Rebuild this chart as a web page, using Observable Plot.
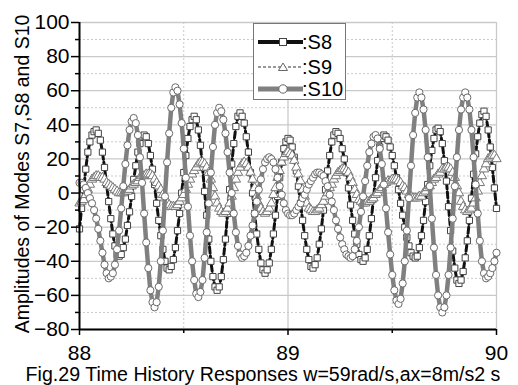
<!DOCTYPE html>
<html><head><meta charset="utf-8">
<script src="https://cdn.jsdelivr.net/npm/d3@7"></script>
<script src="https://cdn.jsdelivr.net/npm/@observablehq/plot@0.6"></script>
<style>
body{margin:0;background:#fff;font-family:"Liberation Sans",Arial,sans-serif;}
#wrap{position:relative;width:518px;height:385px;overflow:hidden;background:#fff;}
#caption{position:absolute;left:4px;top:363px;width:518px;text-align:center;font-size:19.6px;line-height:22px;color:#000;white-space:nowrap;}
#legend{position:absolute;left:253px;top:23px;}
</style></head><body>
<div id="wrap"><div id="chart"></div><div id="legend"></div><div id="caption"></div></div>
<script>
const t0 = 88, dt = 0.01;
const seriesNames = [":S8", ":S9", ":S10"];
const yLabel = "Amplitudes of Modes S7,S8 and S10";
const captionText = "Fig.29 Time History Responses w=59rad/s,ax=8m/s2 s";
const xTicks = [88, 89, 90];
const xMinor = [88.5, 89.5];
const yTicks = [-80, -60, -40, -20, 0, 20, 40, 60, 80, 100];
const yMinor = [-70, -50, -30, -10, 10, 30, 50, 70, 90];

const s8 = [-21,-9,2,14,24,30,34,36,37,35,
31,24,15,5,-5,-15,-24,-31,-36,-37,
-36,-32,-27,-19,-11,-2,8,16,24,29,
33,34,33,29,22,14,5,-6,-16,-25,
-33,-40,-44,-45,-43,-39,-32,-22,-12,0,
12,22,32,39,43,45,43,37,28,15,
1,-13,-27,-40,-49,-55,-57,-55,-49,-39,
-27,-12,2,17,29,39,45,47,45,41,
33,24,12,0,-12,-24,-33,-41,-45,-47,
-45,-41,-33,-24,-13,-2,9,18,26,30,
32,31,27,21,13,4,-6,-16,-25,-33,
-39,-43,-44,-42,-38,-30,-21,-10,2,13,
22,30,34,36,35,32,26,20,12,3,
-7,-16,-24,-30,-36,-39,-40,-38,-33,-25,
-15,-3,9,19,27,32,34,33,31,27,
22,16,9,2,-6,-13,-20,-26,-31,-35,
-37,-38,-37,-32,-25,-16,-5,5,16,25,
32,37,38,36,29,19,7,-8,-22,-34,
-44,-51,-53,-51,-46,-38,-28,-16,-3,11,
23,33,41,46,48,45,37,27,15,3,
-9];

const s9 = [-6,-5,-4,-1,2,5,8,9,10,10,
9,9,8,6,5,4,3,2,1,0,
0,0,1,1,2,4,5,6,7,9,
10,10,11,11,11,10,8,6,4,2,
-1,-3,-5,-7,-8,-8,-8,-7,-5,-3,
-1,2,5,8,11,13,15,17,18,18,
17,15,12,8,3,-2,-6,-9,-11,-12,
-11,-9,-6,-2,3,8,12,15,17,18,
17,15,12,8,3,-2,-6,-9,-11,-12,
-11,-9,-6,-1,3,9,13,18,21,23,
24,23,22,19,15,11,7,2,-2,-6,
-9,-10,-11,-11,-10,-9,-7,-5,-2,0,
3,5,8,10,12,13,14,14,13,12,
9,6,2,-1,-4,-5,-6,-6,-5,-5,
-4,-3,-1,0,2,3,5,6,7,7,
8,8,8,7,6,4,3,1,-1,-2,
-3,-3,-3,-2,-2,0,1,3,4,6,
8,9,11,12,14,14,15,15,14,12,
9,4,0,-5,-8,-10,-11,-10,-9,-6,
-3,1,6,10,14,17,20,21,22,22,
20];

const s10 = [6,6,5,3,0,-3,-6,-10,-15,-21,
-28,-35,-42,-47,-50,-49,-47,-42,-33,-22,
-9,4,17,28,37,42,44,41,34,21,
6,-12,-29,-44,-57,-64,-67,-64,-55,-40,
-22,-2,18,35,50,59,62,60,52,41,
26,9,-8,-25,-40,-51,-59,-61,-58,-51,
-38,-23,-6,12,27,40,47,50,48,43,
35,24,12,0,-12,-23,-31,-36,-38,-37,
-35,-31,-25,-19,-12,-5,2,8,14,18,
20,21,20,18,14,9,4,-1,-6,-10,
-12,-13,-13,-12,-10,-8,-6,-3,-1,2,
5,7,9,11,12,12,11,10,7,4,
-1,-5,-10,-16,-21,-26,-30,-33,-36,-37,
-38,-37,-33,-28,-20,-11,-2,7,16,24,
29,33,34,32,26,17,5,-9,-23,-36,
-48,-57,-63,-65,-62,-53,-40,-22,-3,16,
34,47,56,59,56,49,37,21,4,-15,
-32,-48,-60,-67,-70,-67,-60,-48,-32,-15,
4,21,37,49,56,59,56,49,37,21,
5,-12,-28,-40,-47,-50,-49,-47,-44,-40,
-35];

const time = s8.map((_, i) => +(t0 + i * dt).toFixed(2));
const rows = time.map((t, i) => ({t, s8: s8[i], s9: s9[i], s10: s10[i]}));

const gridColor = "#c9c9c9";
const chart = Plot.plot({
  width: 518, height: 362,
  marginLeft: 79, marginRight: 22, marginTop: 22, marginBottom: 33,
  style: {fontFamily: '"Liberation Sans", Arial, sans-serif', background: "white", overflow: "visible", color: "black"},
  x: {domain: [88, 90]},
  y: {domain: [-80, 100]},
  marks: [
    Plot.ruleY(yMinor, {stroke: gridColor, strokeDasharray: "2,2"}),
    Plot.ruleY(yTicks, {stroke: gridColor, strokeWidth: 1.3}),
    Plot.ruleX(xMinor, {stroke: gridColor, strokeDasharray: "2,2"}),
    Plot.ruleX(xTicks.slice(1), {stroke: gridColor, strokeWidth: 1.3}),
    Plot.line(rows, {x: "t", y: "s8", stroke: "#111", strokeWidth: 3, strokeDasharray: "6,3"}),
    Plot.dot(rows, {x: "t", y: "s8", symbol: "square", r: 3.5, fill: "white", stroke: "#444", strokeWidth: 1}),
    Plot.line(rows, {x: "t", y: "s9", stroke: "#444", strokeWidth: 1.1, strokeDasharray: "2,2"}),
    Plot.dot(rows, {x: "t", y: "s9", symbol: "triangle", r: 3.5, fill: "white", stroke: "#777", strokeWidth: 1}),
    Plot.line(rows, {x: "t", y: "s10", stroke: "#808080", strokeWidth: 4.5}),
    Plot.dot(rows, {x: "t", y: "s10", symbol: "circle", r: 3.6, fill: "white", stroke: "#6a6a6a", strokeWidth: 1}),
    Plot.axisY(yTicks, {tickSize: 8, tickPadding: 2, fontSize: 21, strokeWidth: 1.5, label: null}),
    Plot.axisY(yMinor, {tickSize: 4, text: null, strokeWidth: 1.5, label: null}),
    Plot.axisX(xTicks, {tickSize: 6, tickPadding: 10, fontSize: 21, strokeWidth: 1.5, label: null, tickFormat: d => String(d)}),
    Plot.axisX(xMinor, {tickSize: 4, text: null, strokeWidth: 1.5, label: null}),
    Plot.ruleX([88], {stroke: "black", strokeWidth: 2}),
    Plot.ruleY([-80], {stroke: "black", strokeWidth: 2}),
    Plot.text([yLabel], {frameAnchor: "left", textAnchor: "middle", lineAnchor: "middle", rotate: -90, dx: -57, dy: -2, fontSize: 19.5, fill: "black"})
  ]
});
document.getElementById("chart").appendChild(chart);

// legend (drawn beside the plot as an overlay)
const lg = d3.select("#legend").append("svg").attr("width", 94).attr("height", 78)
  .style("font-family", '"Liberation Sans", Arial, sans-serif');
lg.append("rect").attr("x", 0.5).attr("y", 0.5).attr("width", 92).attr("height", 76)
  .attr("fill", "white").attr("stroke", "#777");
const rowsY = [19, 44, 66];
// S8
lg.append("line").attr("x1", 5).attr("x2", 50).attr("y1", rowsY[0]).attr("y2", rowsY[0])
  .attr("stroke", "#111").attr("stroke-width", 4);
lg.append("rect").attr("x", 26.5).attr("y", rowsY[0] - 3.5).attr("width", 7).attr("height", 7)
  .attr("fill", "white").attr("stroke", "#444");
// S9
lg.append("line").attr("x1", 5).attr("x2", 50).attr("y1", rowsY[1]).attr("y2", rowsY[1])
  .attr("stroke", "#333").attr("stroke-width", 1.2).attr("stroke-dasharray", "3,2");
lg.append("polygon").attr("points", `30,${rowsY[1]-4} 34.5,${rowsY[1]+3.5} 25.5,${rowsY[1]+3.5}`)
  .attr("fill", "white").attr("stroke", "#666");
// S10
lg.append("line").attr("x1", 5).attr("x2", 50).attr("y1", rowsY[2]).attr("y2", rowsY[2])
  .attr("stroke", "#808080").attr("stroke-width", 5);
lg.append("circle").attr("cx", 30).attr("cy", rowsY[2]).attr("r", 4.2)
  .attr("fill", "white").attr("stroke", "#666");
seriesNames.forEach((n, i) => {
  lg.append("text").attr("x", 49).attr("y", rowsY[i] + 7).attr("font-size", 20).text(n);
});

document.getElementById("caption").textContent = captionText;
</script>
</body></html>
